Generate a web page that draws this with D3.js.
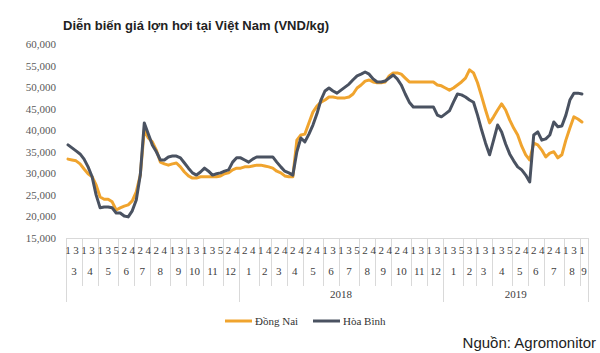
<!DOCTYPE html>
<html>
<head>
<meta charset="utf-8">
<script src="https://cdn.jsdelivr.net/npm/d3@7"></script>
<style>
  body { margin: 0; background: #fff; }
  svg { display: block; }
</style>
</head>
<body>
<svg id="chart" width="600" height="353"></svg>
<script>
// weeks shown for each month (2017-03 .. 2019-09)
var years = ["", "2018", "2019"];
var monthsByYear = [
    [3, 4, 5, 6, 7, 8, 9, 10, 11, 12],
    [1, 2, 3, 4, 5, 6, 7, 8, 9, 10, 11, 12],
    [1, 2, 3, 4, 5, 6, 7, 8, 9]
];
var weeksByYear = [
    [[1,2,3,4],[1,2,3,4],[1,2,3,4,5],[1,2,3,4],[1,2,3,4],[1,2,3,4,5],[1,2,3,4],[1,2,3,4],[1,2,3,4,5],[1,2,3,4]],
    [[1,2,3,4,5],[1,2,4],[1,2,3,4],[1,2,3,4],[1,2,3,4,5],[1,2,3,4],[1,2,3,4,5],[1,2,3,4],[1,2,3,4],[1,2,3,4,5],[1,2,3,4],[1,2,3,4]],
    [[1,2,3,4,5],[2,3,4],[1,2,3,4],[1,2,3,4,5],[1,2,3,4],[1,2,3,4],[1,2,3,4,5],[1,2,3,4],[1,2]]
];

var yTicks = [15000, 20000, 25000, 30000, 35000, 40000, 45000, 50000, 55000, 60000];

var dongNai = [
    33300, 33100, 32900, 32200, 31000, 29900, 29200, 27300, 24500, 24000,
    24000, 23400, 21500, 22000, 22400, 22700, 23600, 25700, 29600, 40100,
    38200, 37300, 35400, 32600, 32200, 31900, 32200, 32400, 31500, 30300,
    29400, 28900, 28900, 29200, 29200, 29200, 29200, 29200, 29400, 29900,
    30100, 30800, 31200, 31200, 31500, 31500, 31700, 31900, 31900, 31700,
    31500, 31200, 30500, 30100, 29400, 29200, 29200, 37700, 38900, 39100,
    41700, 44200, 45600, 46500, 47000, 47700, 47700, 47500, 47500, 47500,
    47700, 48400, 49800, 50500, 51400, 51650, 51200, 51000, 51000, 51200,
    52600, 53300, 53300, 53000, 52100, 51200, 51200, 51200, 51200, 51200,
    51200, 51200, 50500, 50300, 49800, 49300, 49800, 50500, 51200, 52100,
    54000, 53300, 51000, 47900, 44700, 41700, 43100, 44700, 46100, 44700,
    42400, 40500, 38900, 36300, 34300, 33100, 37000, 36600, 35400, 33800,
    34700, 35000, 33600, 34300, 37700, 40500, 43100, 42600, 41900
];

var hoaBinh = [
    36600, 35900, 35200, 34500, 33300, 31500, 29200, 25000, 22000, 22200,
    22200, 22000, 20800, 20800, 20100, 19900, 21300, 23800, 29600, 41700,
    39100, 36600, 35000, 33100, 33100, 33800, 34000, 34000, 33600, 32400,
    31200, 30100, 29600, 30300, 31200, 30500, 29600, 29900, 30100, 30500,
    30800, 32600, 33600, 33600, 33100, 32600, 33300, 33800, 33800, 33800,
    33800, 33800, 32600, 31500, 30500, 30100, 29600, 35000, 38200, 37300,
    39100, 41200, 43800, 47000, 49100, 49800, 49100, 48600, 49300, 50000,
    50700, 51700, 52600, 53000, 53500, 53000, 51900, 51200, 51200, 51400,
    52100, 52800, 51900, 50500, 48400, 46500, 45400, 45400, 45400, 45400,
    45400, 45400, 43500, 43100, 43800, 44500, 46500, 48400, 48200, 47700,
    47000, 46500, 43500, 40100, 37000, 34300, 37700, 41200, 39600, 36800,
    34500, 32900, 31500, 30800, 29600, 28000, 38900, 39600, 37700, 38000,
    38900, 41900, 40800, 41000, 43500, 47000, 48600, 48600, 48400
];

var seriesNames = ["Đồng Nai", "Hòa Bình"];
var seriesColors = ["#f0a42e", "#4a5261"];

// flatten into one category per week
var cats = [], monthGroups = [], yearGroups = [];
years.forEach(function(yr, yi) {
    var yStart = cats.length;
    monthsByYear[yi].forEach(function(m, mi) {
        var mStart = cats.length;
        weeksByYear[yi][mi].forEach(function(w) {
            cats.push({ key: yi + "-" + m + "-" + w, week: w });
        });
        monthGroups.push({ label: m, start: mStart, end: cats.length - 1 });
    });
    yearGroups.push({ label: yr, start: yStart, end: cats.length - 1 });
});

var margin = { left: 66, right: 12, top: 44, bottom: 115 };
var svg = d3.select("#chart");

var x = d3.scaleBand()
    .domain(cats.map(function(d) { return d.key; }))
    .range([margin.left, margin.left + cats.length * 4.015])
    .padding(0);

var y = d3.scaleLinear()
    .domain([15000, 60000])
    .range([238, 44]);

var step = x.step();
var x0 = margin.left, x1 = x.range()[1];
var cx = function(i) { return x(cats[i].key) + step / 2; };

// title
svg.append("text")
    .attr("x", 63)
    .attr("y", 30)
    .attr("font-family", "'Liberation Sans', Arial, sans-serif")
    .attr("font-weight", "bold")
    .attr("font-size", "13px")
    .attr("fill", "#222")
    .text("Diễn biến giá lợn hơi tại Việt Nam (VND/kg)");

// y axis labels
var yAxis = d3.axisLeft(y)
    .tickValues(yTicks)
    .tickFormat(d3.format(","))
    .tickSize(0)
    .tickPadding(0);

var yAxisG = svg.append("g")
    .attr("transform", "translate(56,0)")
    .call(yAxis);
yAxisG.select(".domain").remove();
yAxisG.selectAll("text")
    .attr("font-family", "'Liberation Serif', 'Times New Roman', serif")
    .attr("font-size", "11px")
    .attr("fill", "#595959");

// category axis: frame lines
var axisY = 238;
var grid = svg.append("g").attr("stroke", "#d9d9d9").attr("stroke-width", 1);
grid.append("line")
    .attr("x1", x0).attr("x2", x1)
    .attr("y1", axisY + 0.5).attr("y2", axisY + 0.5);

monthGroups.forEach(function(g) {
    var bx = Math.round(x(cats[g.start].key)) + 0.5;
    grid.append("line")
        .attr("x1", bx).attr("x2", bx)
        .attr("y1", axisY).attr("y2", 286);
});
yearGroups.forEach(function(g) {
    var bx = Math.round(x(cats[g.start].key)) + 0.5;
    grid.append("line")
        .attr("x1", bx).attr("x2", bx)
        .attr("y1", axisY).attr("y2", 302);
});
grid.append("line")
    .attr("x1", Math.round(x1) + 0.5).attr("x2", Math.round(x1) + 0.5)
    .attr("y1", axisY).attr("y2", 302);

var labelFont = "'Liberation Serif', 'Times New Roman', serif";
var labels = svg.append("g")
    .attr("font-family", labelFont)
    .attr("font-size", "11px")
    .attr("fill", "#404040")
    .attr("text-anchor", "middle");

// week labels: every other category
cats.forEach(function(c, i) {
    if (i % 2 !== 0) return;
    labels.append("text")
        .attr("x", cx(i))
        .attr("y", 254)
        .text(c.week);
});

monthGroups.forEach(function(g) {
    labels.append("text")
        .attr("x", (x(cats[g.start].key) + x(cats[g.end].key) + step) / 2)
        .attr("y", 275)
        .text(g.label);
});

yearGroups.forEach(function(g) {
    labels.append("text")
        .attr("x", (x(cats[g.start].key) + x(cats[g.end].key) + step) / 2)
        .attr("y", 298)
        .text(g.label);
});

// lines
var line = d3.line()
    .defined(function(d) { return d != null; })
    .x(function(d, i) { return cx(i); })
    .y(function(d) { return y(d); });

[dongNai, hoaBinh].forEach(function(vals, k) {
    svg.append("path")
        .datum(vals)
        .attr("fill", "none")
        .attr("stroke", seriesColors[k])
        .attr("stroke-width", 3)
        .attr("stroke-linejoin", "round")
        .attr("stroke-linecap", "round")
        .attr("d", line);
});

// legend
var legend = svg.append("g")
    .attr("font-family", labelFont)
    .attr("font-size", "11px")
    .attr("fill", "#333");
var legendX = [225, 313];
seriesNames.forEach(function(name, k) {
    legend.append("line")
        .attr("x1", legendX[k]).attr("x2", legendX[k] + 27)
        .attr("y1", 321).attr("y2", 321)
        .attr("stroke", seriesColors[k])
        .attr("stroke-width", 3);
    legend.append("text")
        .attr("x", legendX[k] + 30)
        .attr("y", 325)
        .text(name);
});

// source
svg.append("text")
    .attr("x", 596)
    .attr("y", 348)
    .attr("text-anchor", "end")
    .attr("font-family", "'Liberation Sans', Arial, sans-serif")
    .attr("font-size", "15px")
    .attr("fill", "#222")
    .text("Nguồn: Agromonitor");
</script>
</body>
</html>
